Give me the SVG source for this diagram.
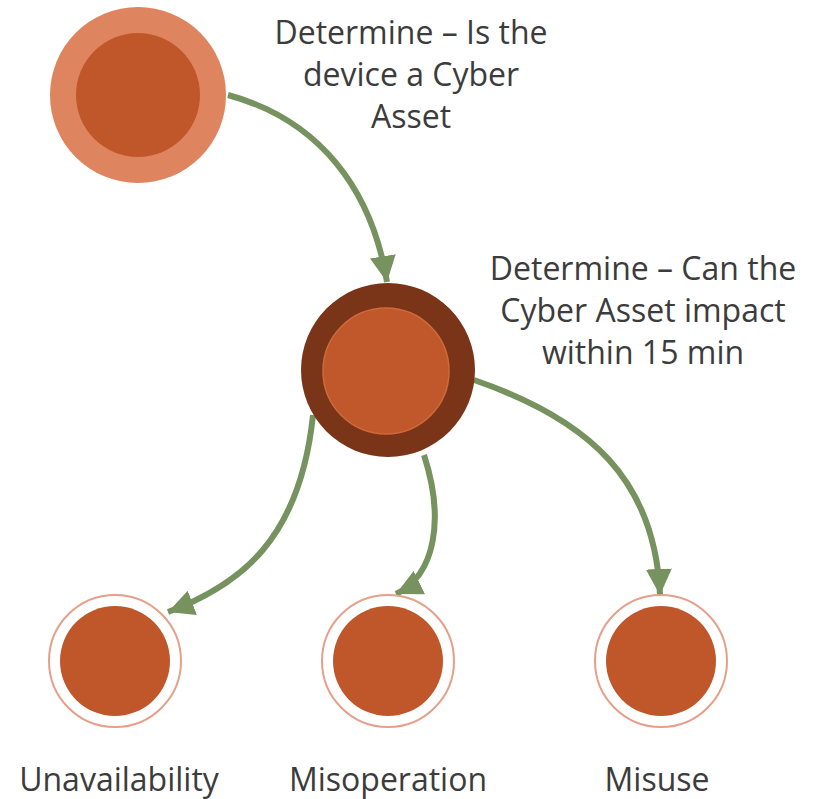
<svg xmlns="http://www.w3.org/2000/svg" width="813" height="799" viewBox="0 0 813 799">
<style>
.t{font-family:"Open Sans","Liberation Sans",sans-serif;font-size:32px;fill:#3c3c3c;text-anchor:middle}
.c{fill:none;stroke:#76925e;stroke-width:6}
.in{fill:#c0572b}
.ring{fill:#fff;stroke:#e6a08a;stroke-width:2}
</style>
<defs>
<marker id="ah" markerUnits="userSpaceOnUse" markerWidth="28" markerHeight="26" refX="26" refY="13" orient="auto">
<path d="M0,0 L26,13 L0,26 Z" fill="#76925e"/>
</marker>
</defs>
<rect width="813" height="799" fill="#fff"/>
<g id="connectors">
<path class="c" d="M228,95 C320,120 372,190 387,282" marker-end="url(#ah)"/>
<path class="c" d="M313,415 C300,540 240,585 168,612" marker-end="url(#ah)"/>
<path class="c" d="M424,455 C445,520 435,575 396,594" marker-end="url(#ah)"/>
<path class="c" d="M474,380 C590,420 655,480 660,595" marker-end="url(#ah)"/>
</g>
<g id="node-cyber-asset">
<circle cx="138" cy="95" r="88" fill="#de845e"/>
<circle class="in" cx="138" cy="95" r="62"/>
</g>
<g id="label-cyber-asset">
<text class="t" x="411" y="44">Determine – Is the</text>
<text class="t" x="411" y="86">device a Cyber</text>
<text class="t" x="411" y="128">Asset</text>
</g>
<g id="node-impact">
<circle cx="388" cy="370" r="87" fill="#7a3418"/>
<circle cx="386" cy="371" r="63" fill="#c0582c" stroke="#d06a3c" stroke-width="1.5"/>
</g>
<g id="label-impact">
<text class="t" x="643" y="280">Determine – Can the</text>
<text class="t" x="643" y="322">Cyber Asset impact</text>
<text class="t" x="643" y="364">within 15 min</text>
</g>
<g id="node-unavailability">
<circle class="ring" cx="115" cy="661" r="66"/>
<circle class="in" cx="115" cy="661" r="55"/>
<text class="t" x="119" y="791">Unavailability</text>
</g>
<g id="node-misoperation">
<circle class="ring" cx="388" cy="661" r="66"/>
<circle class="in" cx="388" cy="661" r="55"/>
<text class="t" x="388" y="791">Misoperation</text>
</g>
<g id="node-misuse">
<circle class="ring" cx="661" cy="661" r="66"/>
<circle class="in" cx="661" cy="661" r="55"/>
<text class="t" x="657" y="791">Misuse</text>
</g>
</svg>
